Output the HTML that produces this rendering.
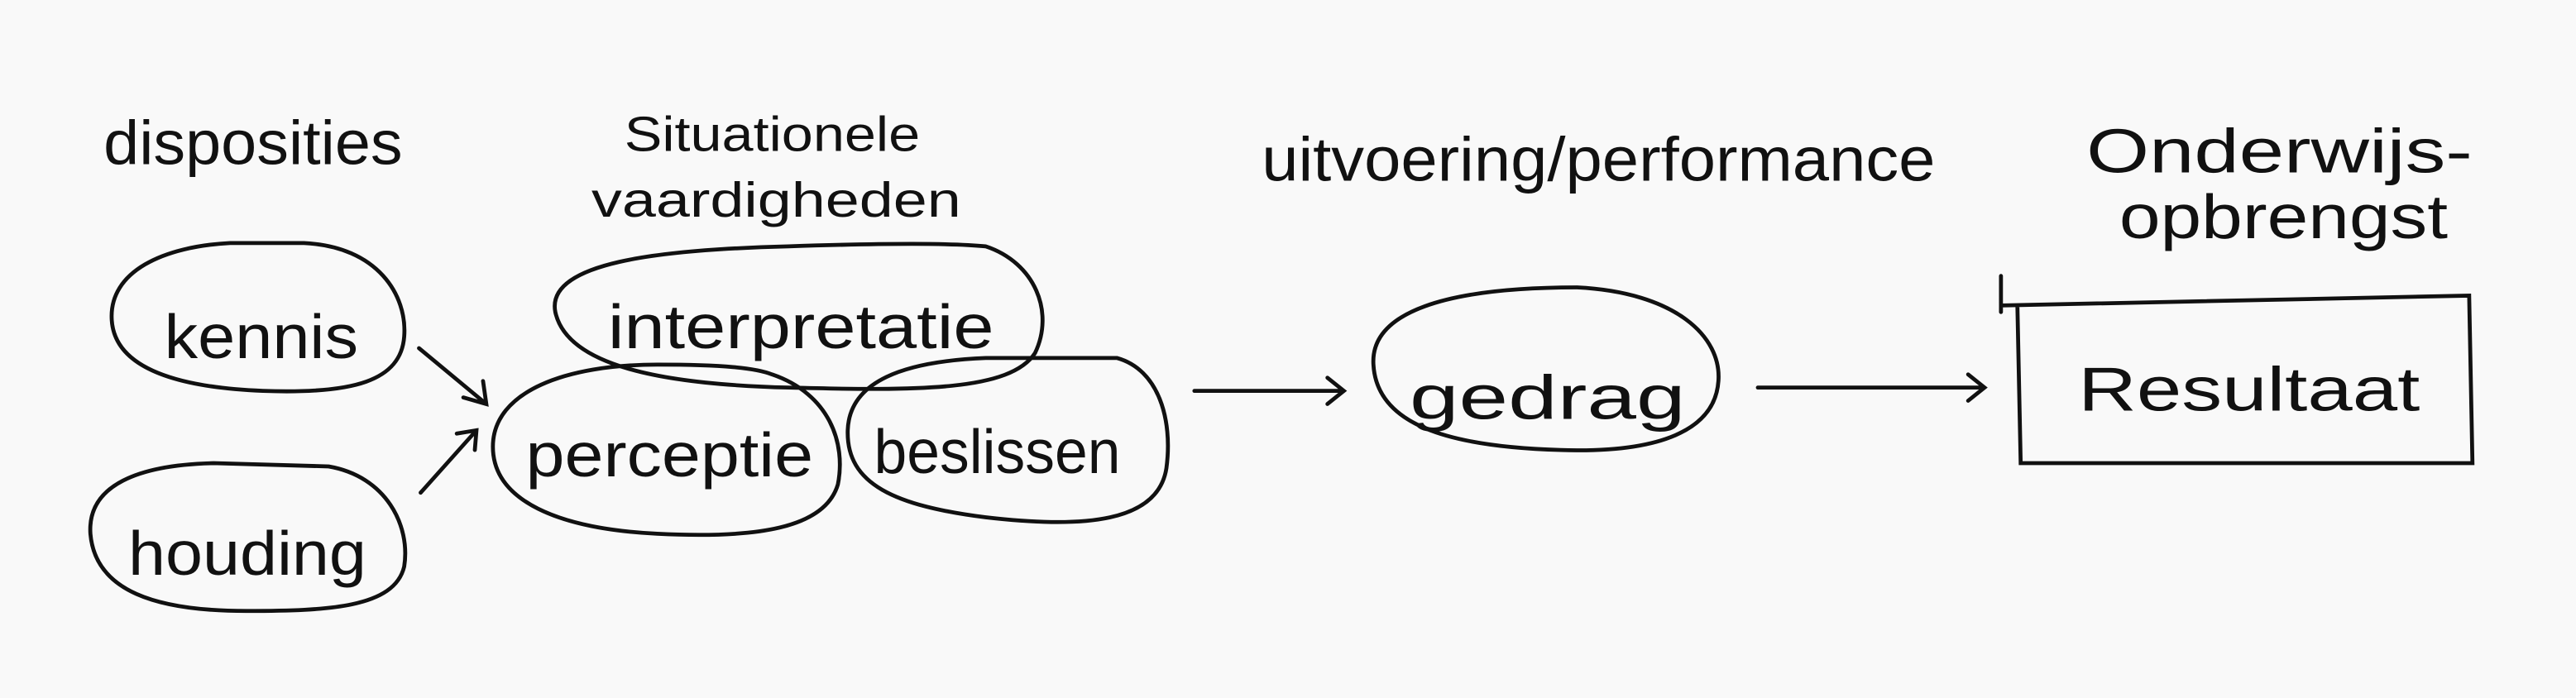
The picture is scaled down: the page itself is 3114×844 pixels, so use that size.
<!DOCTYPE html>
<html><head><meta charset="utf-8"><style>
html,body{margin:0;padding:0;background:#f9f9f9;}
svg{display:block}
text{font-family:"Liberation Sans",sans-serif;fill:#111;}
</style></head><body>
<svg width="3114" height="844" viewBox="0 0 1568 425" xmlns="http://www.w3.org/2000/svg">
<rect width="1568" height="425" fill="#f9f9f9"/>
<g fill="none" stroke="#111" stroke-width="2.4" stroke-linecap="round">
<!-- kennis -->
<path d="M185 148 C230 150 248 180 246 205 C244 232 215 240 160 238 C110 236 70 225 68 195 C66 165 100 150 140 148 Z"/>
<!-- houding -->
<path d="M200 284 C235 290 250 320 246 345 C240 370 200 372 150 372 C95 372 58 360 55 325 C53 295 85 283 130 282 Z"/>
<!-- interpretatie -->
<path d="M600 150 C630 160 642 190 630 215 C615 238 560 238 480 236 C400 234 345 222 338 190 C332 160 400 152 480 150 C540 148 580 148 600 150"/>
<!-- perceptie -->
<path d="M470 228 C505 240 515 270 510 295 C502 322 460 328 400 325 C340 322 300 305 300 272 C300 238 345 222 400 222 C440 222 460 224 470 228"/>
<!-- beslissen -->
<path d="M680 218 C705 225 714 255 710 285 C705 318 660 322 600 315 C545 308 515 295 516 262 C517 232 550 220 600 218 Z"/>
<!-- gedrag -->
<path d="M960 175 C1020 178 1048 205 1046 232 C1044 262 1010 276 950 274 C880 272 838 258 836 222 C834 190 880 175 960 175 Z"/>
<!-- result box -->
<path d="M1218 186 L1503 180 L1505 282 L1230 282 L1228 186 M1218 168 L1218 190"/>
<!-- arrows -->
<path d="M255 212 L296 246 M282 242 L296 246 L294 232"/>
<path d="M256 300 L290 262 M278 264 L290 262 L289 274"/>
<path d="M727 238 L818 238 M808 230 L818 238 L808 246"/>
<path d="M1070 236 L1208 236 M1198 228 L1208 236 L1198 244"/>
</g>
<g font-size="38">
<text x="63" y="100" textLength="182" lengthAdjust="spacingAndGlyphs">disposities</text>
<text x="380" y="92" font-size="30" textLength="180" lengthAdjust="spacingAndGlyphs">Situationele</text>
<text x="360" y="132" font-size="30" textLength="225" lengthAdjust="spacingAndGlyphs">vaardigheden</text>
<text x="768" y="110" textLength="410" lengthAdjust="spacingAndGlyphs">uitvoering/performance</text>
<text x="1270" y="105" textLength="235" lengthAdjust="spacingAndGlyphs">Onderwijs-</text>
<text x="1290" y="145" textLength="200" lengthAdjust="spacingAndGlyphs">opbrengst</text>
<text x="100" y="218" textLength="118" lengthAdjust="spacingAndGlyphs">kennis</text>
<text x="78" y="350" textLength="145" lengthAdjust="spacingAndGlyphs">houding</text>
<text x="370" y="212" textLength="235" lengthAdjust="spacingAndGlyphs">interpretatie</text>
<text x="320" y="290" textLength="175" lengthAdjust="spacingAndGlyphs">perceptie</text>
<text x="532" y="288" textLength="150" lengthAdjust="spacingAndGlyphs">beslissen</text>
<text x="858" y="255" textLength="168" lengthAdjust="spacingAndGlyphs">gedrag</text>
<text x="1265" y="250" textLength="208" lengthAdjust="spacingAndGlyphs">Resultaat</text>
</g>
</svg>
</body></html>
